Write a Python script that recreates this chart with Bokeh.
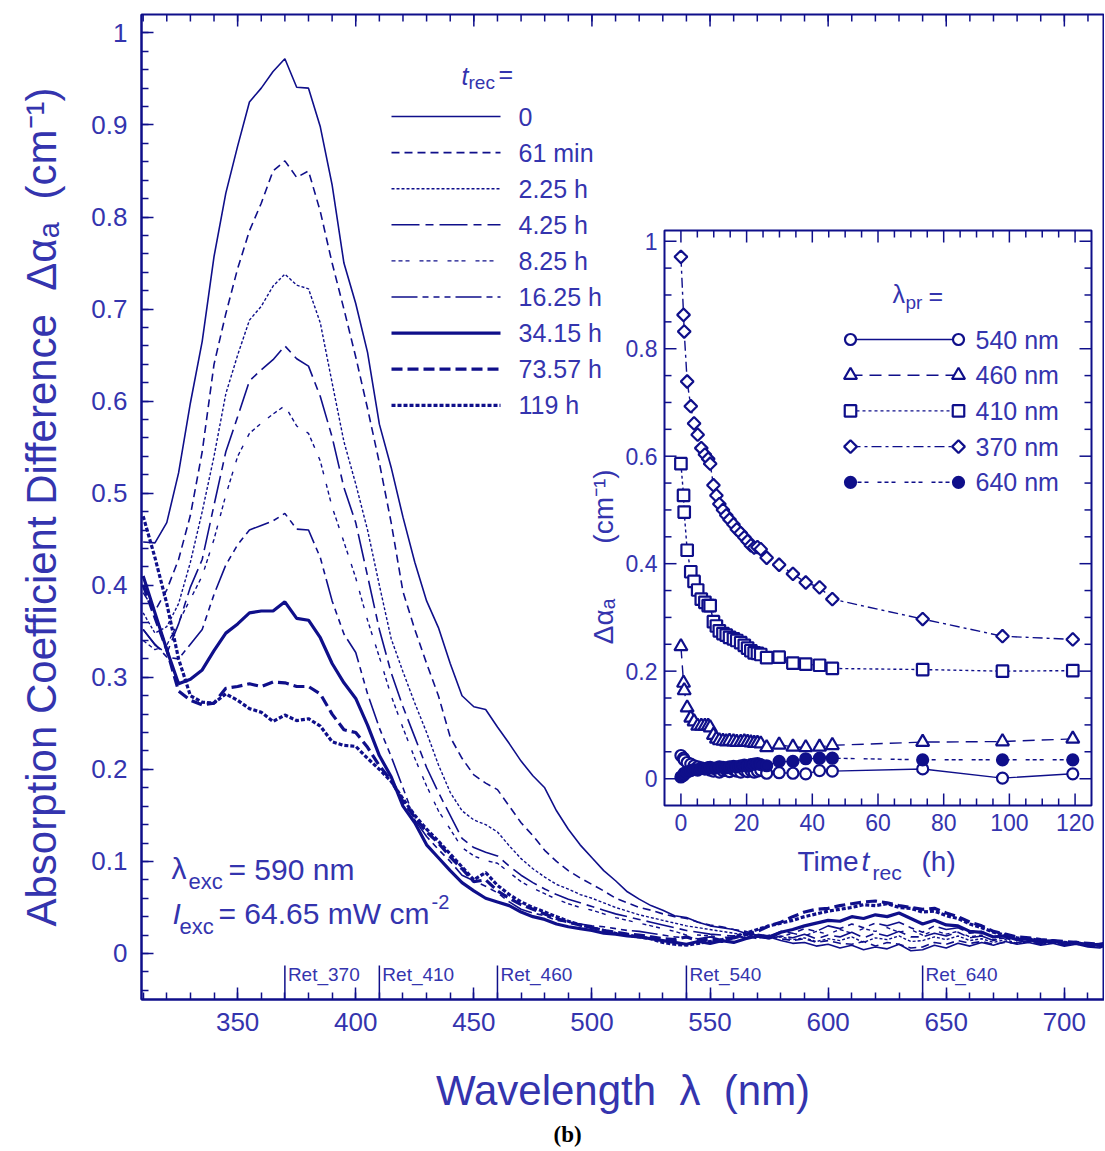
import math
from bokeh.plotting import figure
from bokeh.models import Range1d, FixedTicker, CustomJSTickFormatter, Title
from bokeh.core.properties import value
from bokeh.embed import file_html
from bokeh.resources import INLINE

# ---------------- data ----------------
wavelength_nm = list(range(310, 716, 5)) + [717]

spec_0h = [0.447, 0.446, 0.468, 0.522, 0.598, 0.665, 0.757, 0.826, 0.877, 0.925,
           0.940, 0.958, 0.972, 0.941, 0.940, 0.898, 0.835, 0.750, 0.706, 0.653,
           0.575, 0.528, 0.474, 0.425, 0.383, 0.354, 0.315, 0.280, 0.268, 0.265,
           0.246, 0.228, 0.209, 0.193, 0.180, 0.155, 0.135, 0.118, 0.104, 0.090,
           0.079, 0.067, 0.059, 0.052, 0.047, 0.041, 0.039, 0.034, 0.030, 0.028,
           0.026, 0.022, 0.020, 0.018, 0.014, 0.011, 0.012, 0.008, 0.010, 0.006,
           0.009, 0.004, 0.007, 0.005, 0.010, 0.003, 0.004, 0.009, 0.006, 0.011,
           0.008, 0.012, 0.009, 0.013, 0.010, 0.012, 0.009, 0.011, 0.008, 0.010,
           0.007, 0.006, 0.008]
spec_61min = [0.392, 0.372, 0.395, 0.428, 0.476, 0.545, 0.640, 0.695, 0.744, 0.785,
              0.815, 0.850, 0.861, 0.843, 0.850, 0.806, 0.750, 0.700, 0.648, 0.592,
              0.533, 0.468, 0.393, 0.352, 0.315, 0.280, 0.235, 0.212, 0.194, 0.185,
              0.178, 0.160, 0.142, 0.128, 0.112, 0.100, 0.090, 0.082, 0.075, 0.068,
              0.060, 0.055, 0.050, 0.047, 0.043, 0.040, 0.038, 0.034, 0.031, 0.029,
              0.026, 0.024, 0.020, 0.019, 0.016, 0.014, 0.016, 0.012, 0.014, 0.011,
              0.010, 0.013, 0.008, 0.012, 0.010, 0.006, 0.007, 0.012, 0.010, 0.014,
              0.011, 0.013, 0.010, 0.012, 0.011, 0.013, 0.010, 0.012, 0.009, 0.011,
              0.008, 0.007, 0.009]
spec_2h15 = [0.370, 0.348, 0.355, 0.380, 0.425, 0.480, 0.540, 0.608, 0.650, 0.688,
             0.703, 0.725, 0.738, 0.726, 0.722, 0.685, 0.620, 0.556, 0.510, 0.460,
             0.400, 0.342, 0.306, 0.272, 0.240, 0.205, 0.175, 0.155, 0.145, 0.140,
             0.132, 0.117, 0.103, 0.092, 0.083, 0.075, 0.070, 0.064, 0.060, 0.055,
             0.050, 0.046, 0.042, 0.039, 0.036, 0.033, 0.030, 0.028, 0.026, 0.024,
             0.022, 0.020, 0.019, 0.016, 0.018, 0.015, 0.017, 0.013, 0.016, 0.014,
             0.018, 0.012, 0.017, 0.015, 0.019, 0.013, 0.014, 0.018, 0.015, 0.019,
             0.014, 0.016, 0.012, 0.015, 0.011, 0.013, 0.010, 0.012, 0.009, 0.011,
             0.008, 0.007, 0.009]
spec_4h15 = [0.352, 0.335, 0.326, 0.358, 0.398, 0.428, 0.487, 0.545, 0.583, 0.622,
             0.634, 0.645, 0.660, 0.646, 0.638, 0.605, 0.561, 0.506, 0.468, 0.410,
             0.352, 0.305, 0.268, 0.235, 0.202, 0.175, 0.150, 0.125, 0.115, 0.110,
             0.106, 0.095, 0.085, 0.077, 0.070, 0.064, 0.059, 0.055, 0.051, 0.047,
             0.043, 0.040, 0.037, 0.034, 0.031, 0.028, 0.025, 0.023, 0.021, 0.020,
             0.019, 0.017, 0.018, 0.016, 0.019, 0.017, 0.021, 0.016, 0.020, 0.018,
             0.023, 0.017, 0.022, 0.019, 0.024, 0.018, 0.018, 0.022, 0.019, 0.023,
             0.017, 0.019, 0.014, 0.017, 0.012, 0.014, 0.011, 0.013, 0.010, 0.012,
             0.009, 0.008, 0.010]
spec_8h15 = [0.340, 0.330, 0.335, 0.360, 0.385, 0.410, 0.450, 0.498, 0.540, 0.565,
             0.576, 0.586, 0.595, 0.573, 0.565, 0.535, 0.485, 0.447, 0.408, 0.362,
             0.322, 0.280, 0.245, 0.212, 0.182, 0.155, 0.135, 0.115, 0.106, 0.101,
             0.098, 0.088, 0.078, 0.071, 0.065, 0.059, 0.054, 0.050, 0.047, 0.043,
             0.039, 0.036, 0.033, 0.030, 0.027, 0.024, 0.020, 0.020, 0.019, 0.018,
             0.017, 0.019, 0.016, 0.020, 0.018, 0.022, 0.019, 0.024, 0.021, 0.026,
             0.022, 0.027, 0.024, 0.028, 0.023, 0.026, 0.020, 0.025, 0.021, 0.024,
             0.018, 0.020, 0.015, 0.017, 0.013, 0.015, 0.011, 0.013, 0.010, 0.012,
             0.009, 0.008, 0.010]
spec_16h15 = [0.352, 0.336, 0.322, 0.320, 0.336, 0.352, 0.390, 0.422, 0.444, 0.460,
              0.465, 0.470, 0.478, 0.461, 0.460, 0.430, 0.383, 0.347, 0.327, 0.282,
              0.245, 0.214, 0.180, 0.145, 0.127, 0.113, 0.100, 0.085, 0.079, 0.073,
              0.066, 0.056, 0.048, 0.044, 0.041, 0.036, 0.034, 0.032, 0.030, 0.029,
              0.027, 0.025, 0.024, 0.022, 0.020, 0.018, 0.017, 0.016, 0.018, 0.015,
              0.019, 0.017, 0.021, 0.019, 0.024, 0.022, 0.027, 0.024, 0.030, 0.027,
              0.032, 0.028, 0.033, 0.030, 0.034, 0.028, 0.023, 0.030, 0.026, 0.028,
              0.022, 0.024, 0.018, 0.020, 0.015, 0.016, 0.012, 0.014, 0.010, 0.012,
              0.009, 0.008, 0.010]
spec_34h09 = [0.410, 0.370, 0.330, 0.293, 0.298, 0.308, 0.329, 0.348, 0.358, 0.370,
              0.372, 0.372, 0.382, 0.364, 0.362, 0.343, 0.315, 0.294, 0.277, 0.248,
              0.215, 0.192, 0.160, 0.142, 0.118, 0.104, 0.090, 0.077, 0.068, 0.060,
              0.056, 0.052, 0.045, 0.040, 0.037, 0.032, 0.029, 0.027, 0.025, 0.022,
              0.021, 0.019, 0.018, 0.016, 0.014, 0.012, 0.010, 0.013, 0.011, 0.014,
              0.012, 0.016, 0.019, 0.017, 0.023, 0.026, 0.030, 0.033, 0.036, 0.035,
              0.040, 0.038, 0.042, 0.040, 0.044, 0.038, 0.032, 0.036, 0.031, 0.030,
              0.024, 0.023, 0.018, 0.019, 0.015, 0.016, 0.012, 0.014, 0.011, 0.012,
              0.009, 0.010, 0.008]
spec_73h34 = [0.400, 0.365, 0.330, 0.285, 0.275, 0.270, 0.272, 0.288, 0.290, 0.293,
              0.290, 0.295, 0.294, 0.290, 0.290, 0.282, 0.260, 0.243, 0.240, 0.224,
              0.204, 0.188, 0.165, 0.148, 0.132, 0.120, 0.105, 0.092, 0.078, 0.080,
              0.068, 0.060, 0.053, 0.048, 0.043, 0.038, 0.034, 0.031, 0.028, 0.025,
              0.023, 0.021, 0.020, 0.018, 0.016, 0.015, 0.018, 0.014, 0.016, 0.013,
              0.017, 0.020, 0.024, 0.030, 0.034, 0.040, 0.045, 0.048, 0.049, 0.052,
              0.054, 0.056, 0.057, 0.055, 0.052, 0.050, 0.048, 0.049, 0.044, 0.040,
              0.034, 0.030, 0.024, 0.021, 0.018, 0.017, 0.015, 0.014, 0.013, 0.012,
              0.011, 0.010, 0.011]
spec_119h = [0.475, 0.430, 0.380, 0.320, 0.280, 0.273, 0.272, 0.282, 0.275, 0.266,
             0.262, 0.252, 0.259, 0.253, 0.255, 0.247, 0.230, 0.226, 0.225, 0.212,
             0.200, 0.187, 0.168, 0.150, 0.135, 0.122, 0.108, 0.094, 0.080, 0.088,
             0.074, 0.064, 0.056, 0.050, 0.045, 0.040, 0.035, 0.031, 0.028, 0.025,
             0.022, 0.020, 0.018, 0.016, 0.012, 0.010, 0.009, 0.011, 0.013, 0.015,
             0.018, 0.022, 0.026, 0.030, 0.033, 0.036, 0.040, 0.043, 0.046, 0.048,
             0.050, 0.053, 0.052, 0.054, 0.050, 0.049, 0.045, 0.046, 0.041, 0.038,
             0.032, 0.028, 0.023, 0.020, 0.017, 0.016, 0.014, 0.013, 0.012, 0.011,
             0.010, 0.009, 0.010]

legend_labels = ["0", "61 min", "2.25 h", "4.25 h", "8.25 h", "16.25 h",
                 "34.15 h", "73.57 h", "119 h"]

# inset: recovery time (h) and Δα at five probe wavelengths
t_rec_h = [0, 0.8, 1.0, 1.9, 3.0, 4.0, 5.1, 6.2, 7.3, 8.3,
           8.9, 9.9, 10.8, 11.7, 12.8, 13.8, 14.8, 16.0, 17.0, 18.2,
           19.3, 20.3, 21.3, 22.3, 23.3, 24.3, 26.1, 29.9, 34.1, 38.0,
           42.2, 46.1, 73.6, 97.9, 119.3]
a370 = [0.971, 0.863, 0.832, 0.739, 0.693, 0.661, 0.640, 0.615, 0.603, 0.595,
        0.586, 0.546, 0.527, 0.511, 0.500, 0.490, 0.482, 0.473, 0.464, 0.457,
        0.449, 0.442, 0.434, 0.430, 0.431, 0.427, 0.411, 0.398, 0.381, 0.365,
        0.356, 0.334, 0.297, 0.265, 0.259]
a410 = [0.586, 0.527, 0.496, 0.425, 0.385, 0.367, 0.351, 0.334, 0.328, 0.322,
        0.322, 0.292, 0.284, 0.275, 0.270, 0.267, 0.263, 0.260, 0.257, 0.253,
        0.248, 0.243, 0.238, 0.234, 0.233, 0.231, 0.225, 0.226, 0.215, 0.213,
        0.211, 0.205, 0.203, 0.200, 0.201]
a460 = [0.246, 0.178, 0.164, 0.132, 0.113, 0.106, 0.098, 0.098, 0.098, 0.098,
        0.095, 0.081, 0.074, 0.071, 0.070, 0.069, 0.070, 0.069, 0.068, 0.068,
        0.069, 0.068, 0.067, 0.066, 0.066, 0.065, 0.058, 0.063, 0.059, 0.058,
        0.059, 0.062, 0.068, 0.069, 0.074]
a540 = [0.043, 0.038, 0.035, 0.030, 0.027, 0.024, 0.022, 0.020, 0.018, 0.020,
        0.016, 0.014, 0.018, 0.012, 0.015, 0.016, 0.013, 0.017, 0.014, 0.012,
        0.016, 0.013, 0.015, 0.012, 0.014, 0.016, 0.010, 0.011, 0.010, 0.009,
        0.015, 0.014, 0.018, 0.001, 0.009]
a640 = [0.003, 0.006, 0.010, 0.012, 0.015, 0.017, 0.016, 0.019, 0.018, 0.020,
        0.021, 0.019, 0.020, 0.022, 0.021, 0.020, 0.022, 0.023, 0.022, 0.024,
        0.025, 0.023, 0.026, 0.027, 0.028, 0.026, 0.024, 0.032, 0.032, 0.037,
        0.038, 0.038, 0.035, 0.035, 0.035]
inset_labels = ["540 nm", "460 nm", "410 nm", "370 nm", "640 nm"]

ret_wavelengths = [370, 410, 460, 540, 640]
ret_labels = ["Ret_370", "Ret_410", "Ret_460", "Ret_540", "Ret_640"]

x_major = [350, 400, 450, 500, 550, 600, 650, 700]
x_minor = list(range(310, 720, 10))
y_major = [0, 0.1, 0.2, 0.3, 0.4, 0.5, 0.6, 0.7, 0.8, 0.9, 1.0]
y_minor = [round(k * 0.02, 2) for k in range(-2, 51)]

it_major = [0, 20, 40, 60, 80, 100, 120]
it_labels = ["0", "20", "40", "60", "80", "100", "120"]
it_minor = [t for t in range(5, 125, 5) if t % 20]
iv_major = [0, 0.2, 0.4, 0.6, 0.8, 1.0]
iv_labels = ["0", "0.2", "0.4", "0.6", "0.8", "1"]
iv_minor = [round(k * 0.05, 2) for k in range(1, 20) if k % 4]

# ---------------- styles / geometry ----------------
NAVY = "#0f0f8a"
TXT = "#3434ae"
FONT = "Liberation Sans"
NB = "\u00a0"

X0, X1 = 309.3, 717.0
Y0, Y1 = -0.05, 1.02
FL, FR, FT, FB = 142, 1105, 15, 1000          # frame, page px
OFF = 1                                       # canvas offset on the page


def mx(px):
    return X0 + (px - FL) * (X1 - X0) / (FR - FL)


def my(py):
    return Y1 - (py - FT) * (Y1 - Y0) / (FB - FT)


IT0, IT1 = -5.0, 125.0
IV0, IV1 = -0.05, 1.02
IL, IR, ITOP, IBOT = 665, 1092, 231, 806      # inset frame, page px


def it(px):
    return IT0 + (px - IL) * (IT1 - IT0) / (IR - IL)


def iv(py):
    return IV0 + (IBOT - py) * (IV1 - IV0) / (IBOT - ITOP)


W, H = 1104, 1150
p = figure(width=W, height=H,
           x_range=Range1d(X0, X1), y_range=Range1d(Y0, Y1),
           output_backend="svg", toolbar_location=None,
           min_border_left=FL - OFF, min_border_right=W + OFF - FR,
           min_border_top=FT - OFF, min_border_bottom=H + OFF - FB)
p.extra_x_ranges = {"ix": Range1d(it(FL), it(FR))}
p.extra_y_ranges = {"iy": Range1d(iv(FB), iv(FT))}
p.xgrid.visible = False
p.ygrid.visible = False
p.outline_line_color = NAVY
p.outline_line_width = 2
p.background_fill_color = "white"
p.border_fill_color = "white"

xa = p.xaxis[0]
ya = p.yaxis[0]
xa.ticker = FixedTicker(ticks=x_major, minor_ticks=x_minor)
ya.ticker = FixedTicker(ticks=y_major, minor_ticks=y_minor)
ya.formatter = CustomJSTickFormatter(code="return String(Math.round(tick*10)/10);")
xa.axis_label = f"Wavelength{NB}{NB}λ{NB}{NB}(nm)"
ya.axis_label = f"Absorption Coefficient Difference{NB}{NB}Δαₐ{NB}{NB}(cm⁻¹)"
for ax in (xa, ya):
    ax.axis_line_color = NAVY
    ax.axis_line_width = 2
    ax.major_tick_line_color = NAVY
    ax.major_tick_line_width = 1.5
    ax.major_tick_in = 12
    ax.major_tick_out = 0
    ax.minor_tick_line_color = NAVY
    ax.minor_tick_line_width = 1.5
    ax.minor_tick_in = 7
    ax.minor_tick_out = 0
    ax.major_label_text_font = FONT
    ax.major_label_text_font_size = "26px"
    ax.major_label_text_color = TXT
    ax.axis_label_text_font = FONT
    ax.axis_label_text_font_style = "normal"
    ax.axis_label_text_color = TXT
    ax.axis_label_text_font_size = "42px"
xa.major_label_standoff = 13
xa.axis_label_standoff = 33
ya.major_label_standoff = 14
ya.axis_label_standoff = 23

p.add_layout(Title(text="(b)", align="left", offset=412, text_font="Liberation Serif",
                   text_font_size="23px", text_font_style="bold", text_color="black",
                   standoff=6), "below")

# top mirror ticks
tl_major = 12 * (Y1 - Y0) / (FB - FT)
tl_minor = 7 * (Y1 - Y0) / (FB - FT)
p.segment(x0=x_major, y0=[Y1] * len(x_major), x1=x_major, y1=[Y1 - tl_major] * len(x_major),
          line_color=NAVY, line_width=1.5)
p.segment(x0=x_minor, y0=[Y1] * len(x_minor), x1=x_minor, y1=[Y1 - tl_minor] * len(x_minor),
          line_color=NAVY, line_width=1.5)

# ---------------- main spectra ----------------
spectra = [spec_0h, spec_61min, spec_2h15, spec_4h15, spec_8h15, spec_16h15,
           spec_34h09, spec_73h34, spec_119h]
line_styles = [("solid", 1.6), ("8 5", 1.6), ("3 2", 1.4), ("28 6 8 6", 1.6),
               ("4 3 4 3 4 10", 1.4), ("26 5 6 5 6 5 6 5", 1.6),
               ("solid", 3.2), ("11 5", 3.2), ("4 2", 3.2)]
for vals, (dash, w) in zip(spectra, line_styles):
    p.line(wavelength_nm, vals, line_color=NAVY, line_width=w, line_dash=dash)


def txt(x, y, s, size, italic=False, align="left", baseline="middle", angle=0.0,
        color=TXT, font=FONT, **kw):
    p.text(x=[x], y=[y], text=[s], text_font=value(font),
           text_font_size=value(f"{size}px"),
           text_font_style="italic" if italic else "normal",
           text_align=align, text_baseline=baseline, angle=angle,
           text_color=color, **kw)


# main legend
txt(mx(462), my(76), "t", 25, italic=True)
txt(mx(469), my(83), "rec", 19)
txt(mx(499), my(74), "=", 25)
for i, (lab, (dash, w)) in enumerate(zip(legend_labels, line_styles)):
    yy = my(117 + i * 36.1)
    p.line([mx(392), mx(501)], [yy, yy], line_color=NAVY, line_width=w, line_dash=dash)
    txt(mx(519), yy, lab, 25)

# excitation annotation
txt(mx(172), my(869), "λ", 30)
txt(mx(189), my(882), "exc", 22)
txt(mx(229), my(870), "= 590 nm", 30)
txt(mx(173), my(914), "I", 30, italic=True)
txt(mx(180), my(927), "exc", 22)
txt(mx(219), my(914), "= 64.65 mW cm", 30)
txt(mx(432), my(902), "-2", 20)

# Ret markers
p.segment(x0=ret_wavelengths, y0=[Y0] * 5, x1=ret_wavelengths, y1=[my(966)] * 5,
          line_color=NAVY, line_width=1.5)
p.text(x=ret_wavelengths, y=[my(975)] * 5, text=ret_labels, x_offset=3,
       text_font=value(FONT), text_font_size=value("19px"), text_color=TXT,
       text_align="left", text_baseline="middle")

# ---------------- inset ----------------
R = dict(x_range_name="ix", y_range_name="iy")
p.quad(left=[IT0], right=[IT1], bottom=[IV0], top=[IV1], fill_color="white",
       line_color=NAVY, line_width=2, **R)

inset_series = [
    (a540, "circle", 11, "white", "solid", 0.0),
    (a460, "triangle", 13, "white", "12 7", 0.0),
    (a410, "square", 11.5, "white", "3 3", 0.0),
    (a370, "square", 9, "white", "10 4 3 4", math.pi / 4),
    (a640, "circle", 11, NAVY, "4 3 4 3 4 9", 0.0),
]
for vals, mk, sz, fill, dash, ang in inset_series:
    p.line(t_rec_h, vals, line_color=NAVY, line_width=1.4, line_dash=dash, **R)
for vals, mk, sz, fill, dash, ang in inset_series:
    p.scatter(t_rec_h, vals, marker=mk, size=sz, angle=ang, fill_color=fill,
              line_color=NAVY, line_width=2.2, **R)

# inset ticks
lt_maj = 12 * (IT1 - IT0) / (IR - IL)
lt_min = 7 * (IT1 - IT0) / (IR - IL)
lv_maj = 12 * (IV1 - IV0) / (IBOT - ITOP)
lv_min = 7 * (IV1 - IV0) / (IBOT - ITOP)
for ticks, lv in ((it_major, lv_maj), (it_minor, lv_min)):
    n = len(ticks)
    p.segment(x0=ticks, y0=[IV0] * n, x1=ticks, y1=[IV0 + lv] * n, line_color=NAVY, line_width=1.5, **R)
    p.segment(x0=ticks, y0=[IV1] * n, x1=ticks, y1=[IV1 - lv] * n, line_color=NAVY, line_width=1.5, **R)
for ticks, lt in ((iv_major, lt_maj), (iv_minor, lt_min)):
    n = len(ticks)
    p.segment(x0=[IT0] * n, y0=ticks, x1=[IT0 + lt] * n, y1=ticks, line_color=NAVY, line_width=1.5, **R)
    p.segment(x0=[IT1] * n, y0=ticks, x1=[IT1 - lt] * n, y1=ticks, line_color=NAVY, line_width=1.5, **R)

p.text(x=[IT0] * len(iv_major), y=iv_major, text=iv_labels, x_offset=-7,
       text_font=value(FONT), text_font_size=value("23px"), text_color=TXT,
       text_align="right", text_baseline="middle", **R)
p.text(x=it_major, y=[IV0] * len(it_major), text=it_labels, y_offset=8,
       text_font=value(FONT), text_font_size=value("23px"), text_color=TXT,
       text_align="center", text_baseline="top", **R)

# inset axis labels
txt(mx(798), my(862), "Time", 28)
txt(mx(862), my(862), "t", 28, italic=True)
txt(mx(873), my(873), "rec", 21)
txt(mx(922), my(862), "(h)", 28)
txt(mx(604), my(622), "Δαₐ", 28, align="center", angle=math.pi / 2)
txt(mx(604), my(507), "(cm⁻¹)", 28, align="center", angle=math.pi / 2)

# inset legend
txt(mx(893), my(294), "λ", 25)
txt(mx(906), my(303), "pr", 19)
txt(mx(929), my(296), "=", 25)
for i, (lab, (vals, mk, sz, fill, dash, ang)) in enumerate(zip(inset_labels, inset_series)):
    yy = my(340 + i * 35.7)
    p.line([mx(851), mx(959)], [yy, yy], line_color=NAVY, line_width=1.4, line_dash=dash)
    p.scatter([mx(851), mx(959)], [yy, yy], marker=mk, size=sz, angle=ang,
              fill_color=fill, line_color=NAVY, line_width=2.2)
    txt(mx(976), yy, lab, 25)

open("out.html", "w").write(file_html(p, INLINE))
